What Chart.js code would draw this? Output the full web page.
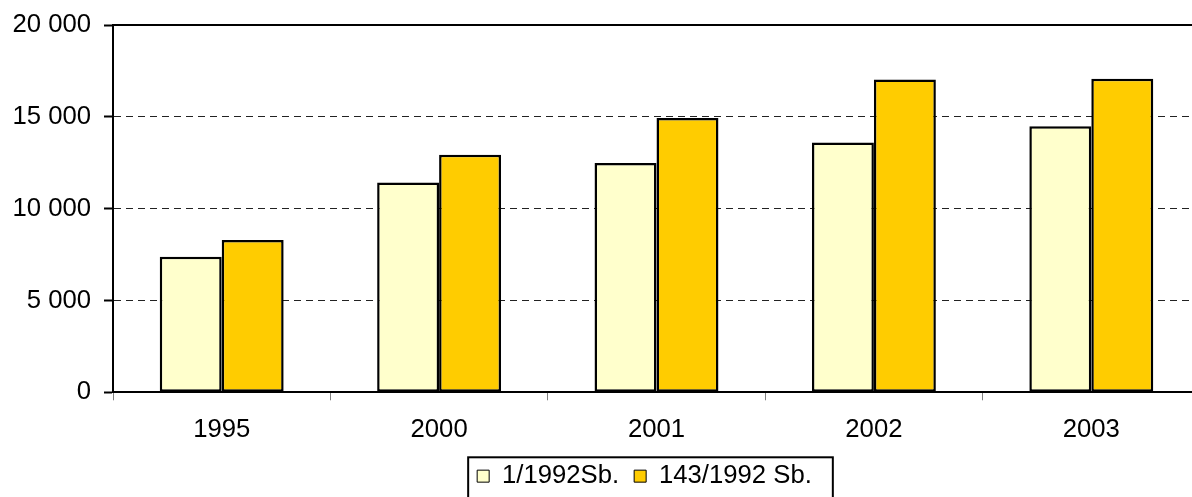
<!DOCTYPE html>
<html>
<head>
<meta charset="utf-8">
<script src="https://cdn.jsdelivr.net/npm/chart.js@4/dist/chart.umd.min.js"></script>
<style>
  html, body { margin: 0; padding: 0; background: #fff; overflow: hidden; }
  canvas { display: block; }
</style>
</head>
<body>
<canvas id="chart" width="1300" height="499"></canvas>
<script>
// Data
const years = ['1995', '2000', '2001', '2002', '2003'];
const seriesA = [7380, 11420, 12480, 13600, 14480];   // 1/1992Sb.
const seriesB = [8290, 12930, 14940, 17030, 17080];   // 143/1992 Sb.
const seriesNames = ['1/1992Sb.', '143/1992 Sb.'];
const yTicks = [0, 5000, 10000, 15000, 20000];

const FONT = { family: "'Liberation Sans', Arial, sans-serif", size: 25.7 };

function spaced(v) {
    return String(v).replace(/\B(?=(\d{3})+(?!\d))/g, ' ');
}

// solid frame line on top of the plot + box round the legend
const framePlugin = {
    id: 'frame',
    afterLayout(chart) {
        // legend sits a bit left of the plot centre in the original
        chart.legend.left -= 12;
        chart.legend.right -= 12;
    },
    afterDraw(chart) {
        const ctx = chart.ctx;
        const a = chart.chartArea;
        ctx.save();
        ctx.strokeStyle = '#000';
        ctx.lineWidth = 2;
        ctx.beginPath();
        ctx.moveTo(a.left, a.top);
        ctx.lineTo(a.right, a.top);
        ctx.stroke();

        const hb = chart.legend.legendHitBoxes;
        if (hb && hb.length) {
            const first = hb[0], last = hb[hb.length - 1];
            const x0 = first.left - 9;
            const x1 = last.left + last.width + 21;
            const y0 = first.top - 6;
            ctx.strokeRect(x0, y0, x1 - x0, chart.height + 10 - y0);
        }
        ctx.restore();
    }
};

new Chart(document.getElementById('chart'), {
    type: 'bar',
    data: {
        labels: years,
        datasets: [{
            label: seriesNames[0],
            data: seriesA,
            backgroundColor: '#FFFFCC',
            borderColor: '#000',
            borderWidth: 2.5,
            borderSkipped: false
        }, {
            label: seriesNames[1],
            data: seriesB,
            backgroundColor: '#FFCC00',
            borderColor: '#000',
            borderWidth: 2.5,
            borderSkipped: false
        }]
    },
    options: {
        responsive: false,
        animation: false,
        layout: { padding: { top: 25, left: 0, right: 100, bottom: 0 } },
        datasets: { bar: { categoryPercentage: 0.57, barPercentage: 1 } },
        scales: {
            x: {
                afterFit(s) { s.height = 56; s.paddingLeft = 0; s.paddingRight = 0; },
                grid: {
                    offset: true,
                    drawOnChartArea: false,
                    drawTicks: true,
                    tickLength: 8,
                    tickColor: '#808080',
                    tickWidth: 1
                },
                border: { color: '#000', width: 2 },
                ticks: { color: '#000', font: FONT, padding: 14, maxRotation: 0 }
            },
            y: {
                min: 0,
                max: 20000,
                afterFit(s) { s.width = 113; s.paddingTop = 0; s.paddingBottom = 0; },
                afterBuildTicks(s) { s.ticks = yTicks.map(v => ({ value: v })); },
                grid: {
                    color: '#222',
                    lineWidth: 1,
                    tickLength: 9,
                    tickColor: '#000',
                    tickWidth: 2
                },
                border: { color: '#000', width: 2, dash: [7, 5] },
                ticks: {
                    color: '#000',
                    font: FONT,
                    padding: 13,
                    callback: v => spaced(v)
                }
            }
        },
        plugins: {
            tooltip: { enabled: false },
            legend: {
                position: 'bottom',
                fullSize: false,
                labels: {
                    color: '#000',
                    font: FONT,
                    boxWidth: 12,
                    boxHeight: 12,
                    padding: 15,
                    generateLabels(chart) {
                        return Chart.defaults.plugins.legend.labels.generateLabels(chart)
                            .map(l => Object.assign(l, { lineWidth: 1 }));
                    }
                }
            }
        }
    },
    plugins: [framePlugin]
});
</script>
</body>
</html>
